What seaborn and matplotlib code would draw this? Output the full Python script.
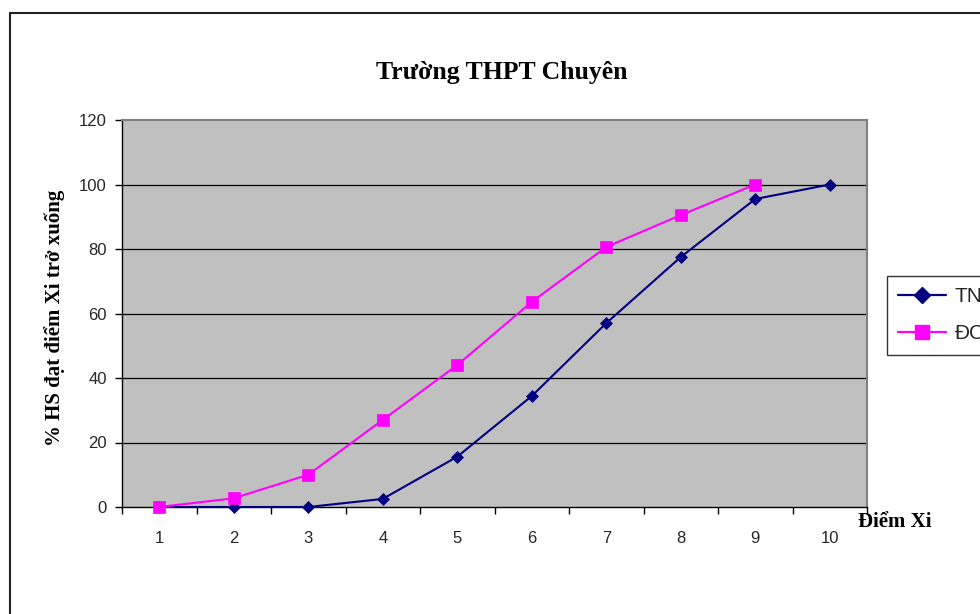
import matplotlib
matplotlib.use("Agg")
import matplotlib.pyplot as plt
from matplotlib.patches import Rectangle
from matplotlib.lines import Line2D
import numpy as np
import pandas as pd
import seaborn as sns

# Điểm Xi (categories) and cumulative percentages for each group
diem = [1, 2, 3, 4, 5, 6, 7, 8, 9, 10]
tn = [0, 0, 0, 2.5, 15.6, 34.4, 57.0, 77.5, 95.5, 100]
dc = [0, 2.7, 10.0, 27.0, 44.0, 63.6, 80.6, 90.5, 100]
y_ticks = [0, 20, 40, 60, 80, 100, 120]

title = "Trường THPT Chuyên"
y_label = "% HS đạt điểm Xi trở xuống"
x_label = "Điểm Xi"

df = pd.concat([
    pd.DataFrame({"diem": diem, "pct": tn, "nhom": "TN"}),
    pd.DataFrame({"diem": diem[:len(dc)], "pct": dc, "nhom": "ĐC"}),
], ignore_index=True)

sns.set_theme(style="white")
serif = ["Liberation Serif", "DejaVu Serif"]
sans = ["Liberation Sans", "DejaVu Sans"]
plt.rcParams["font.family"] = sans

fig = plt.figure(figsize=(9.8, 6.14), dpi=100)
ax = fig.add_axes([122 / 980, 1 - 507 / 614, 745 / 980, 387 / 614])
ax.set_facecolor("#C0C0C0")

colors = {"TN": "#000080", "ĐC": "#FF00FF"}
markers = {"TN": "D", "ĐC": "s"}
msize = {"TN": 6.5, "ĐC": 8}
for name in ["TN", "ĐC"]:
    sub = df[df["nhom"] == name]
    sns.lineplot(data=sub, x="diem", y="pct", ax=ax, color=colors[name],
                 marker=markers[name], markersize=msize[name],
                 markeredgecolor=colors[name], markeredgewidth=0.5,
                 linewidth=1.5, clip_on=False, legend=False, zorder=3)

ax.set_xlim(0.5, 10.5)
ax.set_ylim(0, 120)
ax.set_xticks(diem)
ax.set_xticklabels([str(d) for d in diem], fontsize=12)
ax.set_xticks(np.arange(0.5, 11, 1), minor=True)
ax.tick_params(axis="x", which="major", length=0, pad=17)
ax.tick_params(axis="x", which="minor", length=5, width=1, color="black",
               direction="out", bottom=True)
ax.set_yticks(y_ticks)
ax.set_yticklabels([str(v) for v in y_ticks], fontsize=12)
ax.tick_params(axis="y", length=5, width=1, color="black", direction="out",
               left=True, pad=6)
ax.set_xlabel("")
ax.set_ylabel("")

for v in y_ticks[1:-1]:
    ax.axhline(v, color="black", linewidth=0.9, zorder=1)

for side in ["left", "bottom"]:
    ax.spines[side].set_color("black")
    ax.spines[side].set_linewidth(1.0)
for side in ["top", "right"]:
    ax.spines[side].set_color("#808080")
    ax.spines[side].set_linewidth(1.5)

fig.text(502 / 980, 1 - 72 / 614, title, ha="center", va="center",
         fontsize=18.5, fontweight="bold", family=serif, color="black")
fig.text(55 / 980, 1 - 318 / 614, y_label, ha="center", va="center",
         rotation=90, fontsize=15, fontweight="bold", family=serif,
         color="black")
fig.text(895 / 980, 1 - 522 / 614, x_label, ha="center", va="center",
         fontsize=15, fontweight="bold", family=serif, color="black")

handles = [Line2D([], [], color=colors[n], marker=markers[n],
                  markersize=msize[n] + 2, linewidth=1.6,
                  markeredgecolor=colors[n]) for n in ["TN", "ĐC"]]
leg = fig.legend(handles, ["TN", "ĐC"], loc="upper left",
                 bbox_to_anchor=(887 / 980, 1 - 276 / 614),
                 frameon=True, fancybox=False, fontsize=15,
                 handlelength=2.3, handletextpad=0.4, borderpad=0.55,
                 labelspacing=0.85, borderaxespad=0)
leg.get_frame().set_edgecolor("black")
leg.get_frame().set_linewidth(1.0)

fig.patches.append(Rectangle((10 / 980, -0.1), 1.2, 1 - 13 / 614 + 0.1,
                             transform=fig.transFigure, fill=False,
                             edgecolor="#222222", linewidth=1.5))

fig.savefig("out.png", dpi=100)
